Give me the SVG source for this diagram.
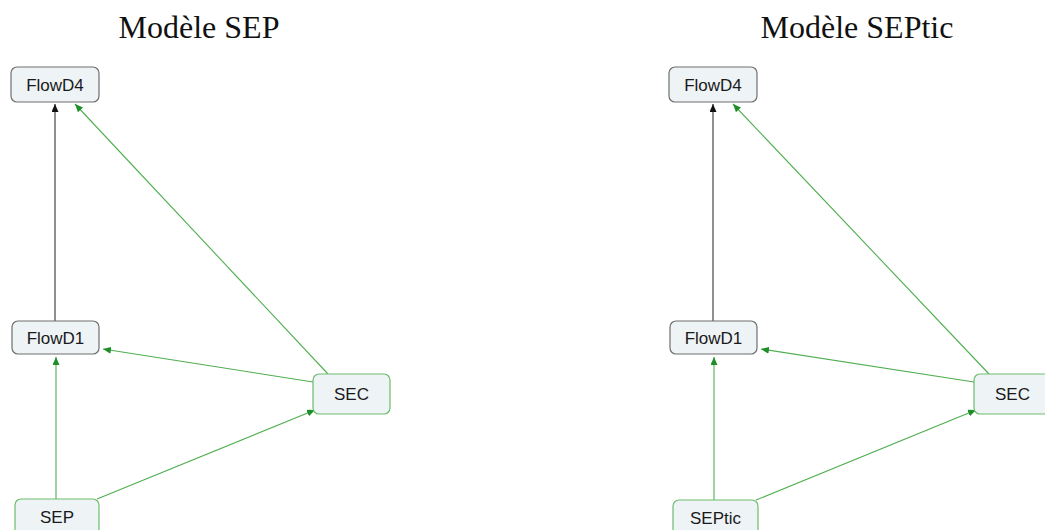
<svg xmlns="http://www.w3.org/2000/svg" width="1045" height="530" viewBox="0 0 1045 530">
<defs>
<marker id="ab" markerWidth="8" markerHeight="7" refX="8" refY="3.5" orient="auto" markerUnits="userSpaceOnUse"><path d="M0,0 L8,3.5 L0,7 z" fill="#111"/></marker>
<marker id="ag" markerWidth="8" markerHeight="7" refX="8" refY="3.5" orient="auto" markerUnits="userSpaceOnUse"><path d="M0,0 L8,3.5 L0,7 z" fill="#1e8f28"/></marker>
<style>
.title{font-family:"Liberation Serif","Times New Roman",serif;font-size:32px;fill:#111;text-anchor:middle}
.lbl{font-family:"Liberation Sans",Arial,sans-serif;font-size:17px;fill:#1a1a1a;text-anchor:middle;dominant-baseline:central}
.nf{fill:#eef3f6;stroke:#6e6e6e;stroke-width:1.2}
.ng{fill:#eef3f6;stroke:#6cbd6c;stroke-width:1.2}
.eb{stroke:#333;stroke-width:1.1;fill:none;marker-end:url(#ab)}
.eg{stroke:#4fae4f;stroke-width:1.1;fill:none;marker-end:url(#ag)}
</style>
</defs>
<rect width="1045" height="530" fill="#fff"/>
<text class="title" x="199" y="38">Modèle SEP</text>
<text class="title" x="857" y="38">Modèle SEPtic</text>
<g id="connectors">
<line class="eb" x1="55" y1="321" x2="55" y2="104"/>
<line class="eg" x1="328" y1="374" x2="75" y2="104"/>
<line class="eg" x1="313" y1="382" x2="103" y2="349"/>
<line class="eg" x1="56" y1="499" x2="56" y2="357"/>
<line class="eg" x1="97" y1="499" x2="315" y2="410"/>
<line class="eb" x1="713" y1="321" x2="713" y2="104"/>
<line class="eg" x1="989" y1="374" x2="733" y2="104"/>
<line class="eg" x1="974" y1="382" x2="761" y2="349"/>
<line class="eg" x1="714" y1="500" x2="714" y2="357"/>
<line class="eg" x1="756" y1="500" x2="976" y2="410"/>
</g>
<g id="l_flowd4"><rect class="nf" x="11" y="67" width="88" height="35" rx="6"/><text class="lbl" x="55" y="85">FlowD4</text></g>
<g id="l_flowd1"><rect class="nf" x="12" y="321" width="87" height="33" rx="6"/><text class="lbl" x="55.5" y="338">FlowD1</text></g>
<g id="l_sep"><rect class="ng" x="15" y="499" width="84" height="36" rx="6"/><text class="lbl" x="57" y="517">SEP</text></g>
<g id="l_sec"><rect class="ng" x="313" y="374" width="77" height="40" rx="6"/><text class="lbl" x="351.5" y="394">SEC</text></g>
<g id="r_flowd4"><rect class="nf" x="669" y="67" width="88" height="35" rx="6"/><text class="lbl" x="713" y="85">FlowD4</text></g>
<g id="r_flowd1"><rect class="nf" x="670" y="321" width="87" height="33" rx="6"/><text class="lbl" x="713.5" y="338">FlowD1</text></g>
<g id="r_septic"><rect class="ng" x="673" y="500" width="85" height="36" rx="6"/><text class="lbl" x="715.5" y="518">SEPtic</text></g>
<g id="r_sec"><rect class="ng" x="974" y="374" width="77" height="40" rx="6"/><text class="lbl" x="1012.5" y="394">SEC</text></g>
</svg>
